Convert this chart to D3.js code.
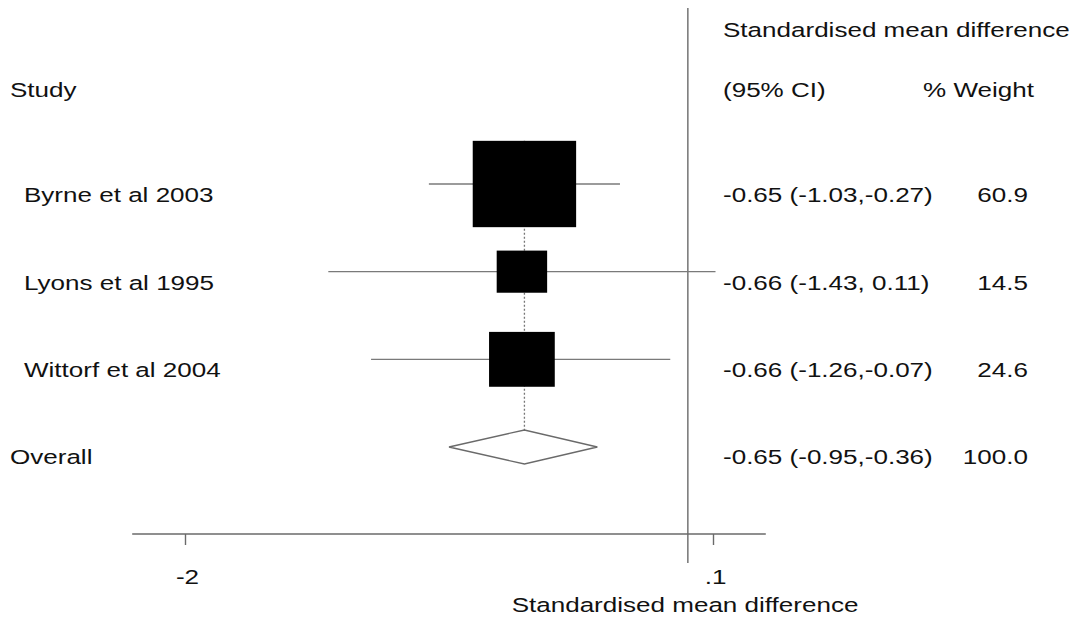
<!DOCTYPE html>
<html>
<head>
<meta charset="utf-8">
<script src="https://cdn.jsdelivr.net/npm/d3@7"></script>
<style>
  html, body { margin: 0; padding: 0; background: #fff; }
  svg { display: block; }
  text { font-family: "Liberation Sans", Arial, sans-serif; fill: #111; }
</style>
</head>
<body>
<svg id="chart" width="1083" height="622"></svg>
<script>
// Study-level results
const studies   = ["Byrne et al 2003", "Lyons et al 1995", "Wittorf et al 2004"];
const estimates = [-0.65, -0.66, -0.66];
const lowerCI   = [-1.03, -1.43, -1.26];
const upperCI   = [-0.27, 0.11, -0.07];
const weights   = [60.9, 14.5, 24.6];

// Pooled estimate
const overallLabel  = "Overall";
const overallEst    = -0.65;
const overallLower  = -0.95;
const overallUpper  = -0.36;
const overallWeight = 100.0;

// Axis
const tickValues = [-2, 0.1];
const tickLabels = ["-2", ".1"];
const axisExtent = [-2.21, 0.31];
const nullValue  = 0;

const svg = d3.select("#chart");
const stretch = 1.27;   // wide lettering
const fontSize = 20.5;

const x = d3.scaleLinear().domain([-2, 0.1]).range([185, 713]);
const rowNames = studies.concat([overallLabel]);
const y = d3.scalePoint().domain(rowNames).range([184, 447]);
const boxW = d3.scaleSqrt().domain([0, 100]).range([0, 132.5]);
const boxAspect = 0.835;

function label(g, px, py, txt, anchor) {
  return g.append("text")
    .attr("transform", `translate(${px},${py}) scale(${stretch},1)`)
    .attr("text-anchor", anchor || "start")
    .style("font-size", fontSize + "px")
    .text(txt);
}

// plain hyphen-minus for negative numbers
const locale = d3.formatLocale({
  decimal: ".", thousands: ",", grouping: [3], currency: ["", ""], minus: "-"
});
const fmt = locale.format(".2f");
const fmtW = locale.format(".1f");
const ciText = (e, l, u) => `${fmt(e)} (${fmt(l)},${u >= 0 ? " " : ""}${fmt(u)})`;

// Null line
svg.append("line")
  .attr("x1", x(nullValue)).attr("x2", x(nullValue))
  .attr("y1", 8).attr("y2", 563)
  .attr("stroke", "#6a6a6a").attr("stroke-width", 1.4);

// Dotted line through the pooled estimate
const topBox = y(studies[0]) - boxW(weights[0]) * boxAspect / 2;
svg.append("line")
  .attr("x1", x(overallEst)).attr("x2", x(overallEst))
  .attr("y1", topBox).attr("y2", y(overallLabel))
  .attr("stroke", "#777").attr("stroke-width", 1.3)
  .attr("stroke-dasharray", "2,2");

// Confidence interval lines
const rows = studies.map((s, i) => ({
  name: s, est: estimates[i], lo: lowerCI[i], hi: upperCI[i], w: weights[i]
}));

svg.append("g").selectAll("line")
  .data(rows).join("line")
  .attr("x1", d => x(d.lo)).attr("x2", d => x(d.hi))
  .attr("y1", d => y(d.name)).attr("y2", d => y(d.name))
  .attr("stroke", "#7a7a7a").attr("stroke-width", 1.3);

// Weighted boxes
svg.append("g").selectAll("rect")
  .data(rows).join("rect")
  .attr("x", d => x(d.est) - boxW(d.w) / 2)
  .attr("y", d => y(d.name) - boxW(d.w) * boxAspect / 2)
  .attr("width", d => boxW(d.w))
  .attr("height", d => boxW(d.w) * boxAspect)
  .attr("fill", "#000");

// Pooled diamond
const oy = y(overallLabel);
const dh = 17;
svg.append("path")
  .attr("d", d3.line()([
    [x(overallLower), oy], [x(overallEst), oy - dh],
    [x(overallUpper), oy], [x(overallEst), oy + dh]
  ]) + "Z")
  .attr("fill", "#fff").attr("stroke", "#6a6a6a").attr("stroke-width", 1.3);

// Column headers
const tg = svg.append("g");
label(tg, 10, 97, "Study");
label(tg, 723, 37, "Standardised mean difference");
label(tg, 723, 97, "(95% CI)");
label(tg, 1034, 97, "% Weight", "end");

// Row labels and values
rows.forEach(d => {
  const by = y(d.name) + 18;
  label(tg, 24, by, d.name);
  label(tg, 723, by, ciText(d.est, d.lo, d.hi));
  label(tg, 1028, by, fmtW(d.w), "end");
});
label(tg, 10, oy + 17, overallLabel);
label(tg, 723, oy + 17, ciText(overallEst, overallLower, overallUpper));
label(tg, 1028, oy + 17, fmtW(overallWeight), "end");

// x axis
const axisY = 534;
svg.append("line")
  .attr("x1", x(axisExtent[0])).attr("x2", x(axisExtent[1]))
  .attr("y1", axisY).attr("y2", axisY)
  .attr("stroke", "#6a6a6a").attr("stroke-width", 1.4);

const axis = svg.append("g")
  .attr("transform", `translate(0,${axisY})`)
  .call(d3.axisBottom(x)
    .tickValues(tickValues)
    .tickSize(11)
    .tickFormat((d, i) => tickLabels[i]));
axis.select(".domain").remove();
axis.selectAll(".tick line").attr("stroke", "#6a6a6a").attr("stroke-width", 1.4);
axis.selectAll(".tick text")
  .attr("y", 0).attr("dy", null)
  .attr("transform", `translate(2,50) scale(${stretch},1)`)
  .style("font-size", fontSize + "px")
  .style("font-family", "'Liberation Sans', Arial, sans-serif")
  .attr("fill", "#111");

label(svg, 685, 612, "Standardised mean difference", "middle");
</script>
</body>
</html>
